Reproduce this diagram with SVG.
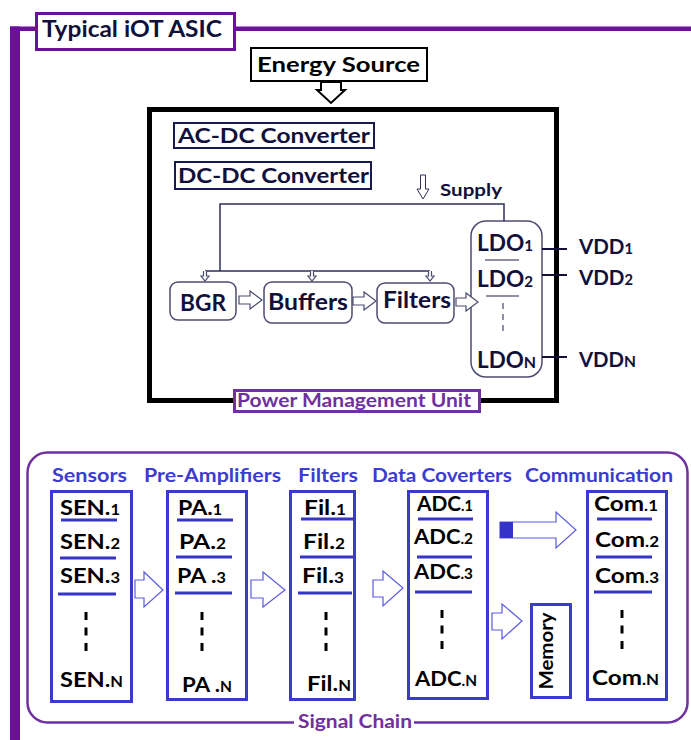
<svg xmlns="http://www.w3.org/2000/svg" width="691" height="740" viewBox="0 0 691 740">
<style>
text{font-family:Lato,"Liberation Sans",sans-serif;font-weight:bold}
.nv{fill:#10103a}
.pmu-in{fill:#fff;stroke:#4c4c72;stroke-width:1.5}
.thin{fill:none;stroke:#2e2e5c;stroke-width:1.5}
.harrow{fill:#fff;stroke:#4c4c72;stroke-width:1.2}
.sarrow{fill:#fff;stroke:#5a5ae0;stroke-width:1.2}
.col{fill:#fff;stroke:#3a3acc;stroke-width:3}
.ul{stroke:#3535c8;stroke-width:3}
.dash{stroke:#000;stroke-width:3;stroke-dasharray:8 7.5}
.hdr{fill:#3c3cd0;font-size:18px}
.item{fill:#000;font-size:21.5px}
</style>

<g id="frame">
  <rect x="10" y="26.5" width="681" height="4.5" fill="#6b0f9c"/>
  <rect x="10" y="26.5" width="10" height="714" fill="#6b0f9c"/>
</g>

<g id="title">
  <rect x="36.5" y="13.5" width="198" height="36" fill="#fff" stroke="#6b0f9c" stroke-width="3"/>
  <text x="42" y="37" class="nv" font-size="23" textLength="180" lengthAdjust="spacingAndGlyphs">Typical iOT ASIC</text>
</g>

<g id="energy-source">
  <rect x="251" y="48" width="176" height="33" fill="#fff" stroke="#000" stroke-width="2"/>
  <text x="257" y="72" fill="#000" font-size="21" textLength="163" lengthAdjust="spacingAndGlyphs">Energy Source</text>
</g>

<g id="pmu">
  <rect x="149.5" y="109.5" width="407" height="291" fill="none" stroke="#000" stroke-width="5"/>
  <rect x="234.5" y="390.5" width="245" height="21" fill="#fff" stroke="#7030a0" stroke-width="3"/>
  <text x="237" y="407" fill="#7030a0" font-size="18.5" textLength="234" lengthAdjust="spacingAndGlyphs">Power Management Unit</text>
</g>

<g id="ac-dc">
  <rect x="174" y="123" width="200" height="25" fill="#fff" stroke="#1a1a50" stroke-width="2"/>
  <text x="178" y="143" class="nv" font-size="21.5" textLength="192" lengthAdjust="spacingAndGlyphs">AC-DC Converter</text>
</g>

<g id="dc-dc">
  <rect x="175" y="162" width="196" height="27" fill="#fff" stroke="#1a1a50" stroke-width="2"/>
  <text x="178" y="183" class="nv" font-size="21.5" textLength="191" lengthAdjust="spacingAndGlyphs">DC-DC Converter</text>
</g>

<g id="supply">
  <text x="440" y="196" class="nv" font-size="17.5" textLength="62" lengthAdjust="spacingAndGlyphs">Supply</text>
</g>

<g id="bgr">
  <rect x="170" y="282" width="66" height="38" rx="8" class="pmu-in"/>
  <text x="180" y="311" class="nv" font-size="23.5" textLength="46" lengthAdjust="spacingAndGlyphs">BGR</text>
</g>
<g id="buffers">
  <rect x="264" y="282" width="88" height="41" rx="8" class="pmu-in"/>
  <text x="268" y="310" class="nv" font-size="23.5" textLength="80" lengthAdjust="spacingAndGlyphs">Buffers</text>
</g>
<g id="filters-pmu">
  <rect x="377" y="283" width="77" height="40" rx="8" class="pmu-in"/>
  <text x="383" y="308" class="nv" font-size="23.5" textLength="68" lengthAdjust="spacingAndGlyphs">Filters</text>
</g>

<g id="ldo">
  <rect x="471" y="221" width="71" height="156" rx="15" class="pmu-in"/>
  <text x="477" y="251" class="nv" font-size="22.5" textLength="56" lengthAdjust="spacingAndGlyphs">LDO<tspan font-size="15">1</tspan></text>
  <line x1="485" y1="260" x2="519" y2="260" stroke="#6a6a8a" stroke-width="1.5"/>
  <text x="477" y="287" class="nv" font-size="22.5" textLength="56" lengthAdjust="spacingAndGlyphs">LDO<tspan font-size="15">2</tspan></text>
  <line x1="486" y1="296" x2="519" y2="296" stroke="#6a6a8a" stroke-width="1.5"/>
  <line x1="503" y1="303" x2="503" y2="336" stroke="#6a6a8a" stroke-width="1.5" stroke-dasharray="6 5"/>
  <text x="477" y="368" class="nv" font-size="22.5" textLength="59" lengthAdjust="spacingAndGlyphs">LDO<tspan font-size="16">N</tspan></text>
</g>

<g id="vdd">
  <text x="579" y="254" class="nv" font-size="21" textLength="54" lengthAdjust="spacingAndGlyphs">VDD<tspan font-size="15">1</tspan></text>
  <text x="579" y="285" class="nv" font-size="21" textLength="54" lengthAdjust="spacingAndGlyphs">VDD<tspan font-size="15">2</tspan></text>
  <text x="579" y="367" class="nv" font-size="21" textLength="57" lengthAdjust="spacingAndGlyphs">VDD<tspan font-size="16">N</tspan></text>
</g>

<g id="signal-chain">
  <rect x="27.5" y="452.5" width="660" height="270" rx="20" fill="none" stroke="#7030a0" stroke-width="2.5"/>
  <rect x="294" y="714" width="120" height="18" fill="#fff"/>
  <text x="298" y="728" fill="#7030a0" font-size="18" textLength="114" lengthAdjust="spacingAndGlyphs">Signal Chain</text>
  <text x="52" y="482" class="hdr" textLength="75" lengthAdjust="spacingAndGlyphs">Sensors</text>
  <text x="144" y="482" class="hdr" textLength="137" lengthAdjust="spacingAndGlyphs">Pre-Amplifiers</text>
  <text x="298" y="482" class="hdr" textLength="60" lengthAdjust="spacingAndGlyphs">Filters</text>
  <text x="372" y="482" class="hdr" textLength="140" lengthAdjust="spacingAndGlyphs">Data Coverters</text>
  <text x="525" y="482" class="hdr" textLength="148" lengthAdjust="spacingAndGlyphs">Communication</text>
</g>

<g id="sensors">
  <rect x="51.5" y="491.5" width="80" height="210" class="col"/>
  <text x="60" y="515" class="item" textLength="60" lengthAdjust="spacingAndGlyphs">SEN.<tspan font-size="15">1</tspan></text>
  <line x1="61" y1="520" x2="117" y2="520" class="ul"/>
  <text x="60" y="549" class="item" textLength="60" lengthAdjust="spacingAndGlyphs">SEN.<tspan font-size="15">2</tspan></text>
  <line x1="60" y1="558" x2="116" y2="558" class="ul"/>
  <text x="60" y="583" class="item" textLength="60" lengthAdjust="spacingAndGlyphs">SEN.<tspan font-size="15">3</tspan></text>
  <line x1="58" y1="594" x2="116" y2="594" class="ul"/>
  <line x1="86" y1="612" x2="86" y2="652" class="dash"/>
  <text x="60" y="687" class="item" textLength="63" lengthAdjust="spacingAndGlyphs">SEN.<tspan font-size="15">N</tspan></text>
</g>

<g id="pre-amplifiers">
  <rect x="167.5" y="491.5" width="79" height="208" class="col"/>
  <text x="178" y="515" class="item" textLength="44" lengthAdjust="spacingAndGlyphs">PA.<tspan font-size="15">1</tspan></text>
  <line x1="177" y1="520" x2="233" y2="520" class="ul"/>
  <text x="179" y="549" class="item" textLength="47" lengthAdjust="spacingAndGlyphs">PA.<tspan font-size="15">2</tspan></text>
  <line x1="176" y1="557" x2="232" y2="557" class="ul"/>
  <text x="177" y="583" class="item" textLength="49" lengthAdjust="spacingAndGlyphs">PA .<tspan font-size="15">3</tspan></text>
  <line x1="175" y1="593" x2="232" y2="593" class="ul"/>
  <line x1="202" y1="612" x2="202" y2="652" class="dash"/>
  <text x="182" y="692" class="item" textLength="50" lengthAdjust="spacingAndGlyphs">PA .<tspan font-size="15">N</tspan></text>
</g>

<g id="filters">
  <rect x="290.5" y="491.5" width="64" height="208" class="col"/>
  <text x="304" y="515" class="item" textLength="42" lengthAdjust="spacingAndGlyphs">Fil.<tspan font-size="15">1</tspan></text>
  <line x1="301" y1="519" x2="354" y2="519" class="ul"/>
  <text x="303" y="549" class="item" textLength="42" lengthAdjust="spacingAndGlyphs">Fil.<tspan font-size="15">2</tspan></text>
  <line x1="300" y1="557" x2="353" y2="557" class="ul"/>
  <text x="302" y="583" class="item" textLength="42" lengthAdjust="spacingAndGlyphs">Fil.<tspan font-size="15">3</tspan></text>
  <line x1="298" y1="593" x2="352" y2="593" class="ul"/>
  <line x1="326" y1="612" x2="326" y2="652" class="dash"/>
  <text x="307" y="691" class="item" textLength="44" lengthAdjust="spacingAndGlyphs">Fil.<tspan font-size="15">N</tspan></text>
</g>

<g id="data-converters">
  <rect x="408.5" y="491.5" width="79" height="207" class="col"/>
  <text x="417" y="511" class="item" textLength="56" lengthAdjust="spacingAndGlyphs">ADC<tspan font-size="15">.1</tspan></text>
  <line x1="418" y1="519" x2="473" y2="519" class="ul"/>
  <text x="414" y="544" class="item" textLength="59" lengthAdjust="spacingAndGlyphs">ADC<tspan font-size="15">.2</tspan></text>
  <line x1="417" y1="557" x2="472" y2="557" class="ul"/>
  <text x="414" y="579" class="item" textLength="59" lengthAdjust="spacingAndGlyphs">ADC<tspan font-size="15">.3</tspan></text>
  <line x1="415" y1="592" x2="472" y2="592" class="ul"/>
  <line x1="442" y1="610" x2="442" y2="650" class="dash"/>
  <text x="415" y="686" class="item" textLength="62" lengthAdjust="spacingAndGlyphs">ADC<tspan font-size="15">.N</tspan></text>
</g>

<g id="memory">
  <rect x="531.5" y="604.5" width="39" height="93" class="col"/>
  <text transform="translate(553,651) rotate(-90)" text-anchor="middle" fill="#000" font-size="19.5" textLength="77" lengthAdjust="spacingAndGlyphs">Memory</text>
</g>

<g id="communication">
  <rect x="587.5" y="491.5" width="79" height="208" class="col"/>
  <text x="594" y="511" class="item" textLength="64" lengthAdjust="spacingAndGlyphs">Com<tspan font-size="15">.1</tspan></text>
  <line x1="597" y1="519" x2="652" y2="519" class="ul"/>
  <text x="595" y="547" class="item" textLength="64" lengthAdjust="spacingAndGlyphs">Com<tspan font-size="15">.2</tspan></text>
  <line x1="596" y1="557" x2="652" y2="557" class="ul"/>
  <text x="595" y="583" class="item" textLength="64" lengthAdjust="spacingAndGlyphs">Com<tspan font-size="15">.3</tspan></text>
  <line x1="594" y1="592" x2="652" y2="592" class="ul"/>
  <line x1="622" y1="610" x2="622" y2="650" class="dash"/>
  <text x="592" y="685" class="item" textLength="67" lengthAdjust="spacingAndGlyphs">Com<tspan font-size="15">.N</tspan></text>
</g>

<g id="connectors">
  <path d="M321,82 V90 H317 L331,103 L345,90 H341 V82 Z" fill="#fff" stroke="#000" stroke-width="2"/>
  <path d="M420.5,175 V189 H417 L423,199 L429,189 H425.5 V175 Z" fill="#fff" stroke="#2e2e5c" stroke-width="1"/>
  <path d="M220,271 V204 H504 V221" class="thin"/>
  <path d="M205,271 H430" class="thin"/>
  <path d="M203.5,271 V276 H201 L205,281 L209,276 H206.5 V271" class="harrow"/>
  <path d="M310.5,271 V276 H308 L312,281 L316,276 H313.5 V271" class="harrow"/>
  <path d="M428.5,271 V276 H426 L430,281 L434,276 H431.5 V271" class="harrow"/>
  <path d="M239,296 H250 V291 L262,300 L250,309 V304 H239 Z" class="harrow"/>
  <path d="M353,297 H364 V292 L376,301 L364,310 V305 H353 Z" class="harrow"/>
  <path d="M456,298 H466 V293 L478,302 L466,311 V306 H456 Z" class="harrow"/>
  <line x1="542" y1="249" x2="567" y2="249" stroke="#10103a" stroke-width="2"/>
  <line x1="542" y1="275" x2="567" y2="275" stroke="#10103a" stroke-width="2"/>
  <line x1="542" y1="357" x2="567" y2="357" stroke="#10103a" stroke-width="2"/>
  <path d="M135,580 H144 V572 L163,590 L144,607 V598 H135 Z" class="sarrow"/>
  <path d="M251,580 H263 V572 L285,590 L263,607 V598 H251 Z" class="sarrow"/>
  <path d="M373,580 H383 V571 L403,588 L383,606 V597 H373 Z" class="sarrow"/>
  <path d="M492,613 H502 V604 L522,621 L502,639 V630 H492 Z" class="sarrow"/>
  <path d="M500,522 H556 V512 L576,530 L556,548 V538 H500 Z" class="sarrow"/>
  <rect x="500" y="522" width="13" height="16" fill="#3333c8"/>
</g>
</svg>
